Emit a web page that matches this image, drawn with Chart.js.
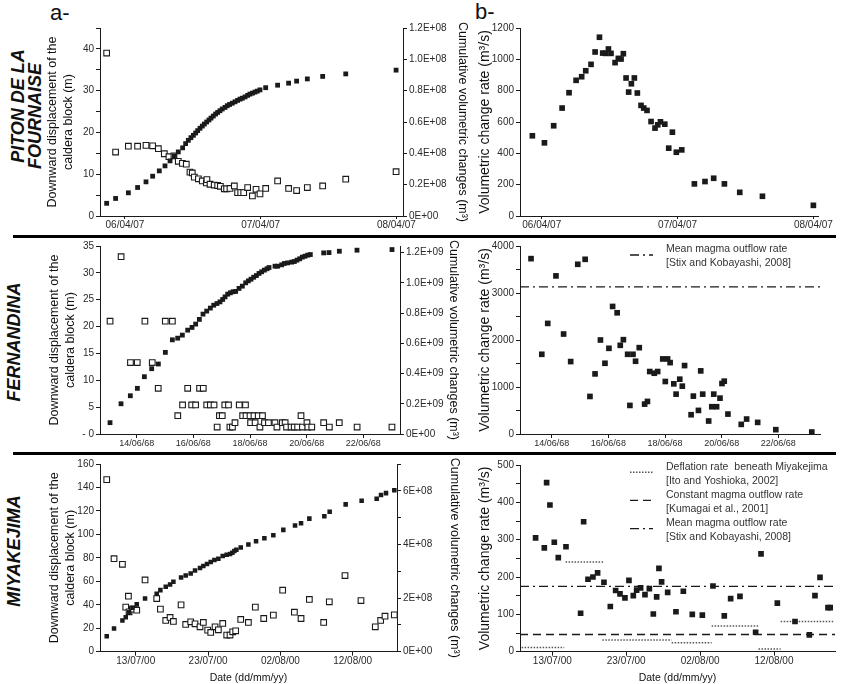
<!DOCTYPE html>
<html>
<head>
<meta charset="utf-8">
<script src="https://cdn.jsdelivr.net/npm/chart.js@4.4.1/dist/chart.umd.min.js"></script>
<style>
  body { margin: 0; background: #fff; width: 850px; height: 684px; position: relative; overflow: hidden;
         font-family: "Liberation Sans", Arial, sans-serif; color: #111; }
  canvas { position: absolute; }
  .rule { position: absolute; left: 13px; width: 823px; height: 3px; background: #000; }
  .site { position: absolute; font-weight: bold; font-style: italic; font-size: 18px; white-space: nowrap;
          transform: translate(-50%, -50%) rotate(-90deg); }
  .tag { position: absolute; font-size: 22px; line-height: 1; }
</style>
</head>
<body>
<div class="tag" style="left:50px;top:2px">a-</div>
<div class="tag" style="left:475px;top:1px">b-</div>
<div class="site" style="left:17.5px;top:106px">PITON DE LA</div>
<div class="site" style="left:35px;top:116px">FOURNAISE</div>
<div class="site" style="left:14px;top:342px">FERNANDINA</div>
<div class="site" style="left:14px;top:551px">MIYAKEJIMA</div>
<div class="rule" style="top:234.5px"></div>
<div class="rule" style="top:451.5px"></div>

<canvas id="pitonA" width="442" height="222" style="left:38px;top:18px"></canvas>
<canvas id="pitonB" width="375" height="222" style="left:470px;top:18px"></canvas>
<canvas id="fernA" width="442" height="222" style="left:38px;top:238px"></canvas>
<canvas id="fernB" width="375" height="222" style="left:470px;top:238px"></canvas>
<canvas id="miyaA" width="442" height="232" style="left:38px;top:456px"></canvas>
<canvas id="miyaB" width="378" height="232" style="left:470px;top:456px"></canvas>

<script>
// ---- Piton de la Fournaise (x = days after 06/04/07) ----
const pitonDateTicks = [0, 1, 2];
const pitonDateLabels = ['06/04/07', '07/04/07', '08/04/07'];
const pitonDispTicks = [0, 5, 10, 15, 20, 25, 30, 35, 40, 45];
const pitonDispLabels = ['0', '', '10', '', '20', '', '30', '', '40', ''];
const pitonVolTicks = [0, 0.2, 0.4, 0.6, 0.8, 1.0, 1.2];
const pitonVolLabels = ['0E+00', '0.2E+08', '0.4E+08', '0.6E+08', '0.8E+08', '1.0E+08', '1.2E+08'];
const pitonRateTicks = [0, 200, 400, 600, 800, 1000, 1200];
const pitonRateLabels = ['0', '200', '400', '600', '800', '1000', '1200'];

const pitonVolDays = [-0.135, -0.069, 0.025, 0.093, 0.155, 0.204, 0.253, 0.295, 0.332, 0.364, 0.393, 0.425, 0.447,
  0.467, 0.486, 0.504, 0.521, 0.536, 0.553, 0.570, 0.585, 0.602, 0.619, 0.634, 0.651, 0.668, 0.683, 0.700, 0.717,
  0.737, 0.754, 0.771, 0.791, 0.811, 0.830, 0.848, 0.865, 0.885, 0.904, 0.921, 0.939, 0.958, 0.975, 0.995, 1.037,
  1.125, 1.206, 1.265, 1.344, 1.457, 1.627, 1.998];
const pitonVol = [0.081, 0.112, 0.148, 0.182, 0.218, 0.254, 0.288, 0.320, 0.352, 0.384, 0.409, 0.435, 0.462,
  0.483, 0.500, 0.515, 0.530, 0.545, 0.560, 0.574, 0.587, 0.600, 0.613, 0.625, 0.638, 0.651, 0.661, 0.672, 0.683,
  0.693, 0.704, 0.712, 0.720, 0.729, 0.738, 0.746, 0.752, 0.760, 0.770, 0.778, 0.784, 0.791, 0.797, 0.805, 0.819,
  0.835, 0.848, 0.861, 0.875, 0.891, 0.907, 0.931]; // x1E+08 m3
const pitonDispDays = [-0.135, -0.069, 0.025, 0.093, 0.155, 0.204, 0.246, 0.290, 0.324, 0.361, 0.393, 0.423, 0.452,
  0.479, 0.496, 0.511, 0.541, 0.570, 0.600, 0.604, 0.627, 0.658, 0.683, 0.703, 0.732, 0.749, 0.774, 0.806, 0.830,
  0.853, 0.875, 0.904, 0.939, 0.966, 0.995, 1.037, 1.125, 1.206, 1.265, 1.344, 1.457, 1.627, 1.998];
const pitonDisp = [39.0, 15.3, 16.7, 16.7, 16.9, 16.8, 16.1, 14.9, 14.2, 14.4, 13.1, 12.6, 12.4,
  10.5, 10.3, 9.3, 8.9, 8.4, 7.9, 8.7, 7.6, 7.4, 7.3, 7.1, 6.5, 6.5, 6.6, 7.2, 5.6,
  5.6, 5.6, 6.8, 4.8, 6.4, 5.3, 6.6, 8.4, 6.6, 6.1, 6.8, 7.2, 8.8, 10.6];
const pitonRateDays = [-0.069, 0.020, 0.088, 0.150, 0.201, 0.253, 0.294, 0.324, 0.363, 0.393, 0.425, 0.449, 0.471,
  0.491, 0.510, 0.540, 0.564, 0.584, 0.601, 0.621, 0.640, 0.660, 0.682, 0.704, 0.731, 0.751, 0.775, 0.805, 0.834,
  0.854, 0.874, 0.906, 0.935, 0.962, 0.991, 1.031, 1.124, 1.202, 1.266, 1.345, 1.458, 1.625, 2.0];
const pitonRate = [512, 467, 576, 689, 787, 866, 889, 927, 968, 1047, 1141, 1040, 1038,
  1066, 1038, 979, 1006, 1002, 1036, 881, 791, 844, 881, 785, 706, 689, 674, 603, 561,
  582, 601, 586, 433, 535, 407, 422, 205, 220, 241, 205, 151, 126, 68];

// ---- Fernandina (x = days after 14/06/68) ----
const fernDateTicks = [0, 2, 4, 6, 8];
const fernDateLabels = ['14/06/68', '16/06/68', '18/06/68', '20/06/68', '22/06/68'];
const fernDispTicks = [0, 5, 10, 15, 20, 25, 30, 35];
const fernDispLabels = ['- 0', '5', '10', '15', '20', '25', '30', '35'];
const fernVolTicks = [0, 0.2, 0.4, 0.6, 0.8, 1.0, 1.2];
const fernVolLabels = ['0E+00', '0.2E+09', '0.4E+09', '0.6E+09', '0.8E+09', '1.0E+09', '1.2E+09'];
const fernRateTicks = [0, 500, 1000, 1500, 2000, 2500, 3000, 3500, 4000];
const fernRateLabels = ['0', '', '1000', '', '2000', '', '3000', '', '4000'];

const fernVolDays = [-0.941, -0.553, -0.224, 0.024, 0.271, 0.529, 0.765, 1.012, 1.259, 1.447, 1.612, 1.8, 1.953,
  2.082, 2.212, 2.341, 2.471, 2.6, 2.718, 2.835, 2.941, 3.035, 3.118, 3.212, 3.306, 3.4, 3.494, 3.612, 3.729,
  3.847, 3.941, 4.035, 4.129, 4.224, 4.318, 4.412, 4.506, 4.6, 4.671, 4.882, 4.976, 5.118, 5.212, 5.329, 5.471,
  5.565, 5.659, 5.753, 5.847, 5.941, 6.035, 6.129, 6.6, 6.788, 7.153, 7.776, 9.012];
const fernVol = [0.075, 0.200, 0.253, 0.302, 0.379, 0.432, 0.463, 0.540, 0.623, 0.634, 0.654, 0.687, 0.705,
  0.727, 0.758, 0.793, 0.813, 0.833, 0.852, 0.863, 0.874, 0.890, 0.907, 0.925, 0.934, 0.941, 0.943, 0.963, 0.978,
  1.0, 1.013, 1.024, 1.037, 1.048, 1.062, 1.073, 1.084, 1.093, 1.101, 1.110, 1.110, 1.119, 1.128, 1.132, 1.137,
  1.141, 1.150, 1.159, 1.170, 1.176, 1.183, 1.187, 1.198, 1.200, 1.209, 1.216, 1.220]; // x1E+09 m3
const fernDispDays = [-0.94, -0.55, -0.22, 0.02, 0.29, 0.55, 0.76, 1.01, 1.26, 1.45, 1.62, 1.80, 1.94, 2.08, 2.22,
  2.35, 2.47, 2.60, 2.73, 2.84, 2.92, 3.02, 3.11, 3.24, 3.29, 3.38, 3.47, 3.62, 3.74, 3.84, 3.86, 4.0, 4.02, 4.14,
  4.18, 4.29, 4.35, 4.44, 4.51, 4.65, 4.88, 4.95, 5.14, 5.24, 5.29, 5.45, 5.56, 5.68, 5.8, 5.85, 6.01, 6.04, 6.18,
  6.6, 6.8, 7.15, 7.78, 9.01];
const fernDisp = [21.0, 33.0, 13.3, 13.3, 21.0, 13.3, 8.5, 21.0, 21.0, 3.4, 5.4, 8.5, 5.4, 5.4, 8.5,
  8.5, 5.4, 5.4, 5.4, 1.3, 3.4, 3.4, 5.4, 5.4, 1.3, 1.3, 2.1, 5.4, 3.4, 5.4, 3.4, 3.4, 2.1, 3.4,
  2.1, 3.4, 1.3, 3.4, 2.1, 2.1, 2.1, 1.3, 2.1, 2.1, 1.3, 1.3, 1.3, 1.3, 3.4, 1.3, 2.1, 1.3, 1.3,
  2.1, 1.3, 2.1, 1.3, 1.3];
const fernRateDays = [-0.73, -0.35, -0.14, 0.15, 0.42, 0.67, 0.92, 1.18, 1.35, 1.53, 1.72, 1.88, 2.02, 2.15, 2.31,
  2.42, 2.53, 2.68, 2.76, 2.87, 2.96, 3.09, 3.28, 3.38, 3.46, 3.62, 3.74, 3.92, 4.01, 4.09, 4.18, 4.31, 4.39, 4.52,
  4.61, 4.69, 4.92, 5.0, 5.18, 5.26, 5.33, 5.54, 5.65, 5.72, 5.82, 5.94, 6.01, 6.09, 6.22, 6.69, 6.88, 7.27, 7.91, 9.18];
const fernRate = [3731, 1696, 2353, 3364, 2127, 1541, 3611, 3717, 799, 1279, 2000, 1505, 1823, 2714, 2579,
  1887, 2007, 1696, 608, 1696, 1548, 1837, 636, 693, 1329, 1293, 1329, 1597, 1117, 1597, 1519, 1067, 848, 1166,
  1018, 1456, 410, 806, 502, 1343, 848, 276, 580, 848, 580, 763, 1074, 1124, 424, 205, 318, 247, 92, 42];
const fernMeanOutflow = 3130;

// ---- Miyakejima (x = days after 13/07/00) ----
const miyaDateTicks = [0, 10, 20, 30];
const miyaDateLabels = ['13/07/00', '23/07/00', '02/08/00', '12/08/00'];
const miyaDispTicks = [0, 20, 40, 60, 80, 100, 120, 140, 160];
const miyaDispLabels = ['0', '20', '40', '60', '80', '100', '120', '140', '160'];
const miyaVolTicks = [0, 1, 2, 3, 4, 5, 6, 7];
const miyaVolLabels = ['0E+00', '', '2E+08', '', '4E+08', '', '6E+08', ''];
const miyaRateTicks = [0, 50, 100, 150, 200, 250, 300, 350, 400, 450, 500];
const miyaRateLabels = ['0', '', '100', '', '200', '', '300', '', '400', '', '500'];

const miyaVolDays = [-4.01, -3.0, -1.84, -1.38, -0.92, -0.46, 0.14, 1.29, 2.90, 3.41, 4.15, 4.75, 5.21, 6.27, 6.91,
  7.60, 8.20, 8.89, 9.35, 9.86, 10.37, 10.88, 11.43, 12.03, 12.58, 13.04, 13.36, 13.64, 13.92, 14.52, 15.58, 16.64,
  17.79, 19.03, 20.41, 22.03, 22.86, 24.01, 26.08, 26.82, 29.03, 31.24, 33.32, 33.92, 34.61, 35.76];
const miyaVol = [0.58, 0.864, 1.16, 1.284, 1.469, 1.642, 1.765, 1.988, 2.16, 2.296, 2.42, 2.506, 2.605, 2.765, 2.84,
  2.914, 3.025, 3.123, 3.198, 3.272, 3.346, 3.42, 3.469, 3.568, 3.617, 3.642, 3.691, 3.753, 3.802, 3.889, 4.0, 4.123,
  4.235, 4.346, 4.543, 4.704, 4.79, 4.963, 5.049, 5.222, 5.494, 5.63, 5.704, 5.84, 5.914, 6.025]; // x1E+08 m3
const miyaDispDays = [-4.01, -3.0, -1.84, -1.38, -1.01, -0.92, -0.46, 0.14, 1.29, 2.90, 3.41, 4.15, 4.75, 5.21, 6.27,
  6.91, 7.60, 8.2, 8.89, 9.35, 9.95, 10.37, 10.97, 11.43, 12.03, 12.58, 13.04, 13.41, 13.82, 14.52, 15.58, 16.54,
  17.70, 19.03, 20.32, 21.94, 22.86, 24.01, 25.99, 26.77, 28.94, 31.15, 33.13, 33.87, 34.47, 35.76];
const miyaDisp = [146.7, 79.3, 74.5, 38.0, 47.3, 34.0, 36.3, 35.4, 61.2, 45.3, 36.3, 26.6, 29.2, 25.8, 39.9,
  23.2, 25.5, 23.8, 21.2, 24.9, 18.4, 16.4, 21.2, 18.7, 24.1, 14.2, 14.2, 17.0, 17.8, 27.5, 24.9, 38.0,
  28.3, 31.2, 52.4, 33.7, 28.3, 44.5, 24.9, 42.5, 64.9, 43.6, 21.2, 26.6, 30.3, 31.4];
const miyaRateDays = [-2.26, -1.08, -0.77, -0.32, 0.27, 0.81, 1.85, 3.83, 4.24, 4.83, 5.5, 6.13, 6.99, 7.85, 8.57,
  9.16, 9.83, 10.37, 10.96, 11.41, 11.95, 12.54, 13.13, 13.67, 14.12, 14.43, 14.79, 15.61, 16.73, 17.73, 18.94,
  20.30, 21.74, 23.27, 24.13, 25.39, 27.51, 28.24, 30.45, 32.84, 34.78, 35.54, 36.22, 37.3, 37.6];
const miyaRate = [305, 278, 453, 393, 293, 252, 281, 103, 348, 194, 200, 211, 186, 121, 164,
  155, 144, 191, 150, 165, 171, 153, 169, 101, 147, 223, 187, 159, 107, 162, 100,
  98, 176, 96, 142, 148, 52, 262, 130, 81, 45, 150, 199, 118, 118];
const miyaMeanOutflow = 175;
const miyaConstOutflow = 46;
const miyaDeflStart = [-4.15, 1.8, 6.77, 16.15, 21.56, 27.9, 30.9];
const miyaDeflEnd = [1.62, 6.9, 16.15, 21.56, 28.0, 30.9, 38.0];
const miyaDeflRate = [11.5, 240, 31, 24, 69, 7, 81];

// ---- drawing ----
const INK = '#1a1a1a';
const FONT = '"Liberation Sans", Arial, Helvetica, sans-serif';
const DASHDOT = [9, 4, 2, 4];
const DASHED = [8, 5];
const DOTTED = [1.5, 1.5];

function pts(xs, ys) {
  return xs.map((x, i) => ({ x: x, y: ys[i] }));
}

function steps(starts, ends, vals) {
  const out = [];
  starts.forEach((s, i) => {
    out.push({ x: s, y: vals[i] }, { x: ends[i], y: vals[i] }, { x: ends[i], y: null });
  });
  return out;
}

function axis(o) {
  const vertical = o.position !== 'bottom';
  return {
    type: 'linear',
    position: o.position,
    min: o.min,
    max: o.max,
    afterBuildTicks: s => { s.ticks = o.values.map(v => ({ value: v })); },
    afterFit: s => { if (vertical) s.width = o.size; else s.height = o.size; },
    grid: { drawOnChartArea: false, drawTicks: true, tickLength: o.tickLength || 4, color: INK, lineWidth: 1 },
    border: { display: true, color: INK, width: 1 },
    ticks: {
      autoSkip: false, maxRotation: 0, minRotation: 0,
      padding: o.pad != null ? o.pad : 2,
      color: '#2a2a2a',
      font: { family: FONT, size: o.font || 10 },
      callback: (v, i) => o.labels[i]
    },
    title: o.title ? {
      display: true, text: o.title, color: '#111',
      font: { family: FONT, size: o.titleSize || 12.5, lineHeight: 1.28 },
      padding: o.titlePad
    } : { display: false }
  };
}

function filled(data, r, axisId) {
  return { data: data, yAxisID: axisId || 'y', pointStyle: 'rect', pointRadius: r, pointHoverRadius: r,
    backgroundColor: INK, borderColor: INK, borderWidth: 0, showLine: false };
}

function open(data, r) {
  return { data: data, yAxisID: 'y', pointStyle: 'rect', pointRadius: r, pointHoverRadius: r,
    backgroundColor: '#fff', borderColor: INK, borderWidth: 1.1, showLine: false };
}

function refLine(data, dash, color, width) {
  return { data: data, showLine: true, spanGaps: false, pointRadius: 0, borderDash: dash,
    borderColor: color, borderWidth: width, fill: false };
}

function refKey(items) {
  return {
    id: 'refKey',
    afterDatasetsDraw(chart) {
      const { ctx, chartArea: a } = chart;
      ctx.save();
      items.forEach(it => {
        ctx.beginPath();
        ctx.setLineDash(it.dash);
        ctx.lineWidth = it.width;
        ctx.strokeStyle = it.color;
        ctx.moveTo(a.left + 110, a.top + it.dy);
        ctx.lineTo(a.left + 133, a.top + it.dy);
        ctx.stroke();
        ctx.setLineDash([]);
        ctx.fillStyle = '#333';
        ctx.font = '10.5px ' + FONT;
        ctx.textBaseline = 'middle';
        it.text.forEach((t, k) => ctx.fillText(t, a.left + 146, a.top + it.ty + k * 13.6));
      });
      ctx.restore();
    }
  };
}

function panel(id, pad, scales, datasets, plugins) {
  return new Chart(document.getElementById(id), {
    type: 'scatter',
    data: { datasets: datasets },
    options: {
      responsive: false,
      animation: false,
      devicePixelRatio: 1,
      layout: { padding: pad },
      plugins: { legend: { display: false }, tooltip: { enabled: false } },
      scales: scales
    },
    plugins: plugins || []
  });
}

const DISP_TITLE = ['Downward displacement of the', 'caldera block (m)'];
const VOL_TITLE = 'Cumulative volumetric changes (m\u00b3)';
const RATE_TITLE = 'Volumetric change rate (m\u00b3/s)';
const DATE_TITLE = 'Date (dd/mm/yy)';

// Piton de la Fournaise
panel('pitonA', { top: 10, right: 0, bottom: 0, left: 0 }, {
  x: axis({ position: 'bottom', min: -0.184, max: 2.049, values: pitonDateTicks, labels: pitonDateLabels, size: 24, tickLength: 3, pad: 0 }),
  y: axis({ position: 'left', min: 0, max: 45, values: pitonDispTicks, labels: pitonDispLabels, size: 62,
    title: DISP_TITLE, titlePad: { top: 6.5, bottom: 0 } }),
  y1: axis({ position: 'right', min: 0, max: 1.2, values: pitonVolTicks, labels: pitonVolLabels, size: 77,
    title: VOL_TITLE, titlePad: { top: 10, bottom: 0 } })
}, [filled(pts(pitonVolDays, pitonVol), 3.4, 'y1'), open(pts(pitonDispDays, pitonDisp), 4.0)]);

panel('pitonB', { top: 10, right: 27, bottom: 0, left: 0 }, {
  x: axis({ position: 'bottom', min: -0.16, max: 2.034, values: pitonDateTicks, labels: pitonDateLabels, size: 24, tickLength: 3, pad: 0 }),
  y: axis({ position: 'left', min: 0, max: 1200, values: pitonRateTicks, labels: pitonRateLabels, size: 50,
    title: RATE_TITLE, titleSize: 14, titlePad: { top: 6, bottom: 0 } })
}, [filled(pts(pitonRateDays, pitonRate), 4)]);

// Fernandina
panel('fernA', { top: 7.7, right: 0, bottom: 0, left: 0 }, {
  x: axis({ position: 'bottom', min: -1.295, max: 9.294, values: fernDateTicks, labels: fernDateLabels, size: 26, tickLength: 4, pad: 0, font: 9 }),
  y: axis({ position: 'left', min: 0, max: 35, values: fernDispTicks, labels: fernDispLabels, size: 62,
    title: DISP_TITLE, titlePad: { top: 8.5, bottom: 0 } }),
  y1: axis({ position: 'right', min: 0, max: 1.2436, values: fernVolTicks, labels: fernVolLabels, size: 80,
    title: VOL_TITLE, titlePad: { top: 19, bottom: 0 } })
}, [filled(pts(fernVolDays, fernVol), 3.4, 'y1'), open(pts(fernDispDays, fernDisp), 4.0)]);

panel('fernB', { top: 7, right: 25, bottom: 0, left: 0 }, {
  x: axis({ position: 'bottom', min: -1.119, max: 9.47, values: fernDateTicks, labels: fernDateLabels, size: 26, tickLength: 4, pad: 0, font: 9 }),
  y: axis({ position: 'left', min: 0, max: 4000, values: fernRateTicks, labels: fernRateLabels, size: 50,
    title: RATE_TITLE, titleSize: 14, titlePad: { top: 6, bottom: 0 } })
}, [
  filled(pts(fernRateDays, fernRate), 4),
  refLine([{ x: -1.119, y: fernMeanOutflow }, { x: 9.47, y: fernMeanOutflow }], DASHDOT, INK, 1.3)
], [refKey([
  { dash: DASHDOT, width: 1.3, color: INK, dy: 9, ty: 3.3, text: ['Mean magma outflow rate', '[Stix and Kobayashi, 2008]'] }
])]);

// Miyakejima
panel('miyaA', { top: 8, right: 0, bottom: 0, left: 0 }, {
  x: axis({ position: 'bottom', min: -4.94, max: 36.13, values: miyaDateTicks, labels: miyaDateLabels, size: 36.3, tickLength: 4, pad: 0,
    title: DATE_TITLE, titleSize: 10.5, titlePad: { top: 0, bottom: 3 } }),
  y: axis({ position: 'left', min: 0, max: 160, values: miyaDispTicks, labels: miyaDispLabels, size: 62,
    title: DISP_TITLE, titlePad: { top: 8.5, bottom: 0 } }),
  y1: axis({ position: 'right', min: 0, max: 7, values: miyaVolTicks, labels: miyaVolLabels, size: 83,
    title: VOL_TITLE, titlePad: { top: 18, bottom: 0 } })
}, [filled(pts(miyaVolDays, miyaVol), 3.2, 'y1'), open(pts(miyaDispDays, miyaDisp), 4.0)]);

panel('miyaB', { top: 9, right: 13, bottom: 0, left: 0 }, {
  x: axis({ position: 'bottom', min: -4.37, max: 38.25, values: miyaDateTicks, labels: miyaDateLabels, size: 36.3, tickLength: 4, pad: 0,
    title: DATE_TITLE, titleSize: 10.5, titlePad: { top: 0, bottom: 3 } }),
  y: axis({ position: 'left', min: 0, max: 500, values: miyaRateTicks, labels: miyaRateLabels, size: 50,
    title: RATE_TITLE, titleSize: 14, titlePad: { top: 6, bottom: 0 } })
}, [
  filled(pts(miyaRateDays, miyaRate), 4),
  refLine([{ x: -4.37, y: miyaMeanOutflow }, { x: 38.25, y: miyaMeanOutflow }], DASHDOT, INK, 1.3),
  refLine([{ x: -4.37, y: miyaConstOutflow }, { x: 38.25, y: miyaConstOutflow }], DASHED, INK, 1.3),
  refLine(steps(miyaDeflStart, miyaDeflEnd, miyaDeflRate), DOTTED, '#555', 1.5)
], [refKey([
  { dash: DOTTED, width: 1.5, color: '#555', dy: 7.3, ty: 2.3, text: ['Deflation rate  beneath Miyakejima', '[Ito and Yoshioka, 2002]'] },
  { dash: DASHED, width: 1.3, color: INK, dy: 35.3, ty: 30.3, text: ['Constant magma outflow rate', '[Kumagai et al., 2001]'] },
  { dash: DASHDOT, width: 1.3, color: INK, dy: 63.7, ty: 58.3, text: ['Mean magma outflow rate', '[Stix and Kobayashi, 2008]'] }
])]);
</script>
</body>
</html>
